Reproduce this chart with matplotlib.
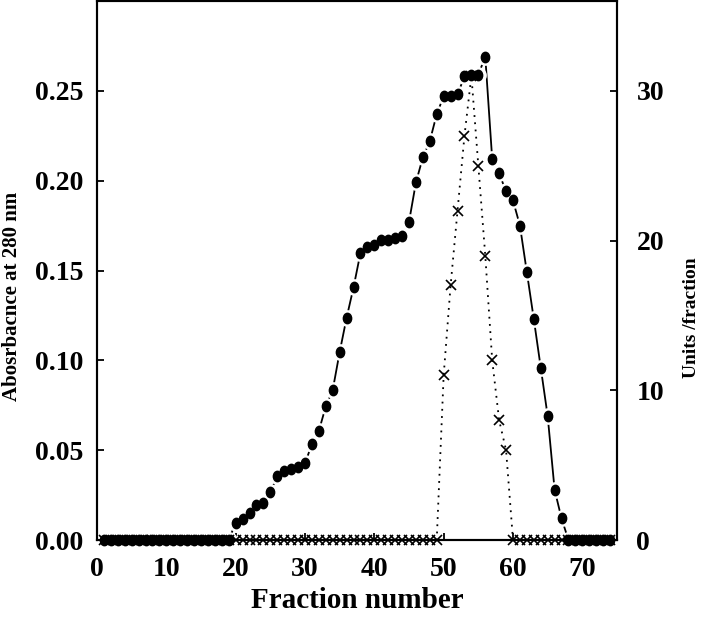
import numpy as np
import matplotlib.pyplot as plt
from matplotlib.path import Path
from matplotlib.transforms import Affine2D

plt.rcParams["font.family"] = "Liberation Serif"
plt.rcParams["font.weight"] = "bold"

fractions = list(range(1, 75))
absorbance = [0.0] * 19 + [
    0.0096, 0.0118, 0.0148, 0.0193, 0.0204, 0.0265, 0.0356, 0.0385, 0.0396, 0.0407,
    0.0426, 0.0535, 0.0607, 0.0744, 0.0835, 0.1046, 0.1237, 0.1406, 0.1598, 0.1630,
    0.1640, 0.1670, 0.1670, 0.1680, 0.1690, 0.1770, 0.1990, 0.2130, 0.2220, 0.2370,
    0.2470, 0.2470, 0.2480, 0.2580, 0.2590, 0.2590, 0.2690, 0.2120, 0.2040, 0.1940,
    0.1890, 0.1750, 0.1490, 0.1230, 0.0960, 0.0690, 0.0280, 0.0120,
] + [0.0] * 7
units = [0] * 49 + [11, 17, 22, 27, 31, 25, 19, 12, 8, 6] + [0] * 15

x_ticks = [0, 10, 20, 30, 40, 50, 60, 70]
abs_ticks = [0.00, 0.05, 0.10, 0.15, 0.20, 0.25]
unit_ticks = [0, 10, 20, 30]

# slightly tall dot, like the scanned figure
oval = Path.unit_circle().transformed(Affine2D().scale(0.8, 1.0))

fig = plt.figure(figsize=(7.01, 6.23), dpi=100)
ax = fig.add_axes([97 / 701, 83 / 623, 520 / 701, 539 / 623])
ax2 = ax.twinx()

# absorbance: solid line broken around each dot (white halo)
ax.plot(fractions, absorbance, color="black", lw=1.3, zorder=2)
ax.plot(fractions, absorbance, ls="none", marker="o", ms=11,
        mfc="white", mec="white", zorder=2.4)
ax.plot(fractions, absorbance, ls="none", marker=oval, ms=7.5,
        mfc="black", mec="black", zorder=4, clip_on=False)

# activity on top
ax2.plot(fractions, units, color="black", ls=(0, (1, 3)), lw=1.3,
         marker="x", ms=7.5, mew=1.2, clip_on=False)

ax.set_xlim(0, 75)
ax.set_ylim(0, 0.30)
ax2.set_ylim(0, 36)
ax.set_xticks(x_ticks)
ax.set_yticks(abs_ticks)
ax.set_yticklabels([f"{v:.2f}" for v in abs_ticks])
ax2.set_yticks(unit_ticks)

for a in (ax, ax2):
    for s in a.spines.values():
        s.set_linewidth(1.5)
ax.tick_params(axis="both", direction="in", length=5, width=1.3, labelsize=20)
ax.tick_params(axis="y", pad=10)
ax.tick_params(axis="x", pad=12)
ax2.tick_params(axis="y", direction="in", length=5, width=1.3, labelsize=20, pad=14)

fig.text(357 / 701, 1 - 600 / 623, "Fraction number", ha="center", va="center",
         fontsize=21, fontweight="bold")
fig.text(12 / 701, 1 - 296 / 623, "Abosrbacnce at 280 nm", ha="center", va="center",
         rotation=90, fontsize=15, fontweight="bold")
fig.text(692 / 701, 1 - 318 / 623, "Units /fraction", ha="center", va="center",
         rotation=90, fontsize=14, fontweight="bold")

fig.savefig("out.png", dpi=100)
